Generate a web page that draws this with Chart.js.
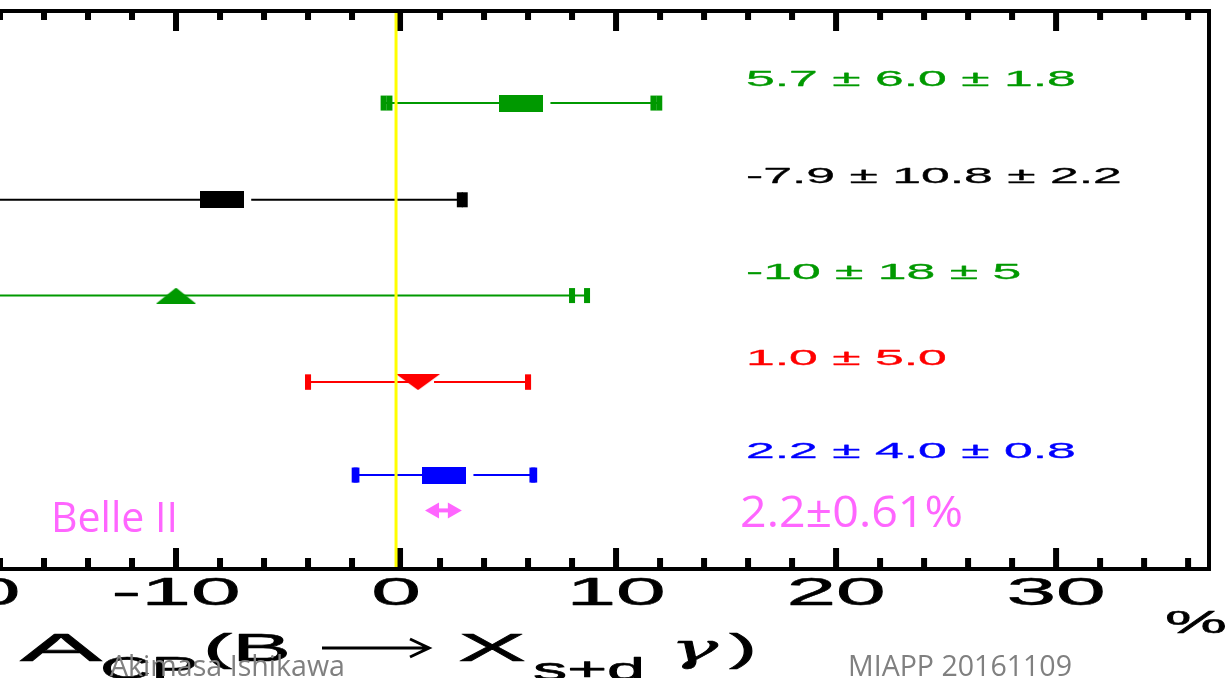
<!DOCTYPE html>
<html>
<head>
<meta charset="utf-8">
<script src="https://cdn.jsdelivr.net/npm/chart.js@4.4.1/dist/chart.umd.min.js"></script>
<style>
  html, body { margin: 0; padding: 0; background: #fff; }
  #wrap { width: 1227px; height: 678px; }
</style>
</head>
<body>
<div id="wrap"><canvas id="acpChart" width="1227" height="678"></canvas></div>
<script>
// A_CP(B -> X_s+d gamma) results, in %
const resultLabels = ["5.7 ± 6.0 ± 1.8", "-7.9 ± 10.8 ± 2.2", "-10 ± 18 ± 5", "1.0 ± 5.0", "2.2 ± 4.0 ± 0.8"];
const centralValues = [5.7, -7.9, -10, 1.0, 2.2];
const statErrors = [6.0, 10.8, 18, 5.0, 4.0];
const systErrors = [1.8, 2.2, 5, 0, 0.8];
const rowPositions = [0.99, 2.03, 3.06, 3.99, 4.99];
const rowColors = ["#009900", "#000000", "#009900", "#ff0000", "#0000ff"];
const rowMarkers = ["rect", "rect", "triangle", "triangleDown", "rect"];

// Belle II projection
const projValue = 2.2;
const projError = 0.61;
const projRow = 5.37;
const projLabel = "2.2±0.61%";

const majorTicks = [-20, -10, 0, 10, 20, 30];
const minorStep = 2;

const PINK = "#ff66ff";
const GREY = "#808080";

function makeMarker(shape, color) {
  const c = document.createElement("canvas");
  const w = shape === "triangle" ? 40 : 44;
  const h = shape === "rect" ? 17 : 16;
  c.width = w;
  c.height = h;
  const g = c.getContext("2d");
  g.fillStyle = color;
  g.beginPath();
  if (shape === "rect") {
    g.rect(0, 0, w, h);
  } else if (shape === "triangle") {
    g.moveTo(w / 2, 0);
    g.lineTo(w, h);
    g.lineTo(0, h);
  } else {
    g.moveTo(0, 0);
    g.lineTo(w, 0);
    g.lineTo(w / 2, h);
  }
  g.closePath();
  g.fill();
  return c;
}

// stretched text, the original figure is squeezed vertically
function drawText(ctx, text, x, y, font, color, opts = {}) {
  ctx.save();
  ctx.font = font;
  ctx.fillStyle = color;
  ctx.strokeStyle = color;
  ctx.textBaseline = "alphabetic";
  ctx.textAlign = "left";
  const w = ctx.measureText(text).width;
  let sx = opts.sx || 1;
  if (opts.width) sx = opts.width / w;
  let left = x;
  if (opts.align === "center") left = x - (w * sx) / 2;
  ctx.translate(left, y);
  ctx.scale(sx, 1);
  ctx.fillText(text, 0, 0);
  if (opts.stroke) {
    ctx.lineWidth = opts.stroke;
    ctx.lineJoin = "round";
    ctx.strokeText(text, 0, 0);
  }
  ctx.restore();
}

const overlayPlugin = {
  id: "overlay",
  beforeDatasetsDraw(chart) {
    const ctx = chart.ctx;
    const xs = chart.scales.x;
    const ys = chart.scales.y;
    const area = chart.chartArea;

    // error bars, caps at stat and total error
    centralValues.forEach((v, i) => {
      const py = ys.getPixelForValue(rowPositions[i]);
      const stat = statErrors[i];
      const tot = Math.sqrt(stat * stat + systErrors[i] * systErrors[i]);
      const pc = xs.getPixelForValue(v);
      let gap = 29;
      if (rowMarkers[i] === "triangle") gap = 0;
      if (rowMarkers[i] === "triangleDown") gap = 16;

      ctx.save();
      ctx.strokeStyle = rowColors[i];
      ctx.lineWidth = 2;
      ctx.beginPath();
      ctx.moveTo(xs.getPixelForValue(v - tot), py);
      ctx.lineTo(pc, py);
      ctx.moveTo(pc + gap, py);
      ctx.lineTo(xs.getPixelForValue(v + tot), py);
      ctx.stroke();

      ctx.fillStyle = rowColors[i];
      [v - stat, v + stat, v - tot, v + tot].forEach((e) => {
        const px = xs.getPixelForValue(e);
        ctx.fillRect(px - 3, py - 7.5, 6, 15);
      });
      ctx.restore();
    });
  },

  afterDraw(chart) {
    const ctx = chart.ctx;
    const xs = chart.scales.x;
    const ys = chart.scales.y;
    const area = chart.chartArea;

    // frame
    ctx.save();
    ctx.strokeStyle = "#000";
    ctx.lineWidth = 4;
    ctx.beginPath();
    ctx.moveTo(-5, area.top);
    ctx.lineTo(area.right, area.top);
    ctx.lineTo(area.right, area.bottom);
    ctx.lineTo(-5, area.bottom);
    ctx.stroke();

    // ticks, pointing inward on top and bottom
    ctx.fillStyle = "#000";
    for (let v = Math.ceil(xs.min / minorStep) * minorStep; v <= xs.max; v += minorStep) {
      const px = xs.getPixelForValue(v);
      const major = v % 10 === 0;
      const lenB = major ? 21 : 11;
      const lenT = major ? 20 : 9;
      const shift = v === 0 ? 4 : 0;
      ctx.fillRect(px - 3 + shift, area.bottom - lenB, 6, lenB);
      ctx.fillRect(px - 3 + shift, area.top, 6, lenT);
    }
    ctx.restore();

    // zero line
    const x0 = xs.getPixelForValue(0);
    ctx.save();
    ctx.strokeStyle = "#ffff00";
    ctx.lineWidth = 3;
    ctx.beginPath();
    ctx.moveTo(x0, area.top + 2);
    ctx.lineTo(x0, area.bottom - 2);
    ctx.stroke();
    ctx.restore();

    // tick labels
    majorTicks.forEach((v) => {
      const px = xs.getPixelForValue(v);
      drawText(ctx, String(v), px, 605, "38px 'Liberation Sans'", "#000", { sx: 2.35, align: "center", stroke: 0.5 });
    });
    drawText(ctx, "%", 1165, 633, "31px 'Liberation Sans'", "#000", { width: 62, stroke: 0.5 });

    // axis title: A_CP(B -> X_s+d gamma)
    const tf = "38px 'Liberation Sans'";
    const sf = "32px 'Liberation Sans'";
    drawText(ctx, "A", 20, 661, tf, "#000", { width: 82, stroke: 0.6 });
    drawText(ctx, "CP", 100, 679, sf, "#000", { width: 98, stroke: 0.6 });
    drawText(ctx, "(B", 203, 661, tf, "#000", { width: 88, stroke: 0.6 });
    ctx.save();
    ctx.strokeStyle = "#000";
    ctx.lineWidth = 3;
    ctx.beginPath();
    ctx.moveTo(322, 648);
    ctx.lineTo(428, 648);
    ctx.moveTo(410, 639);
    ctx.lineTo(429, 648);
    ctx.lineTo(410, 657);
    ctx.stroke();
    ctx.restore();
    drawText(ctx, "X", 458, 661, tf, "#000", { width: 68, stroke: 0.6 });
    drawText(ctx, "s+d", 533, 680, sf, "#000", { width: 112, stroke: 0.6 });
    drawText(ctx, "γ", 670, 661, "italic 40px 'DejaVu Serif'", "#000", { width: 48, stroke: 0.6 });
    drawText(ctx, ")", 729, 661, tf, "#000", { width: 28, stroke: 0.6 });

    // result labels
    resultLabels.forEach((t, i) => {
      const py = ys.getPixelForValue(rowPositions[i]);
      drawText(ctx, t, 746, py - 17, "22px 'Liberation Sans'", rowColors[i], { sx: 2.35, stroke: 0.3 });
    });

    // Belle II projection arrow
    const ay = ys.getPixelForValue(projRow);
    const aL = xs.getPixelForValue(projValue - projError) - 6;
    const aR = xs.getPixelForValue(projValue + projError) + 4;
    ctx.save();
    ctx.fillStyle = PINK;
    ctx.strokeStyle = PINK;
    ctx.lineWidth = 4;
    ctx.beginPath();
    ctx.moveTo(aL + 6, ay);
    ctx.lineTo(aR - 6, ay);
    ctx.stroke();
    ctx.beginPath();
    ctx.moveTo(aL, ay);
    ctx.lineTo(aL + 14, ay - 8);
    ctx.lineTo(aL + 14, ay + 8);
    ctx.closePath();
    ctx.moveTo(aR, ay);
    ctx.lineTo(aR - 14, ay - 8);
    ctx.lineTo(aR - 14, ay + 8);
    ctx.closePath();
    ctx.fill();
    ctx.restore();

    drawText(ctx, projLabel, 740, 527, "43px 'Open Sans'", PINK, { width: 223 });
    drawText(ctx, "Belle II", 51, 532, "42px 'Open Sans'", PINK, { width: 127 });

    // footer
    drawText(ctx, "Akimasa Ishikawa", 110, 676, "29px 'Open Sans'", GREY, { width: 235 });
    drawText(ctx, "MIAPP 20161109", 848, 676, "29px 'Open Sans'", GREY, { width: 224 });
  },
};

const points = centralValues.map((v, i) => ({ x: v, y: rowPositions[i] }));
const markerImages = rowMarkers.map((m, i) => makeMarker(m, rowColors[i]));

new Chart(document.getElementById("acpChart"), {
  type: "scatter",
  data: {
    datasets: [
      {
        data: points,
        pointStyle: markerImages,
        pointRadius: 10,
        pointHoverRadius: 10,
      },
    ],
  },
  options: {
    responsive: false,
    animation: false,
    clip: false,
    layout: { autoPadding: false, padding: { left: 0, right: 18, top: 11, bottom: 109 } },
    scales: {
      x: { type: "linear", min: -18, max: 36.95, display: false },
      y: { type: "linear", min: 0, max: 6, reverse: true, display: false },
    },
    plugins: {
      legend: { display: false },
      tooltip: { enabled: false },
    },
  },
  plugins: [overlayPlugin],
});
</script>
</body>
</html>
